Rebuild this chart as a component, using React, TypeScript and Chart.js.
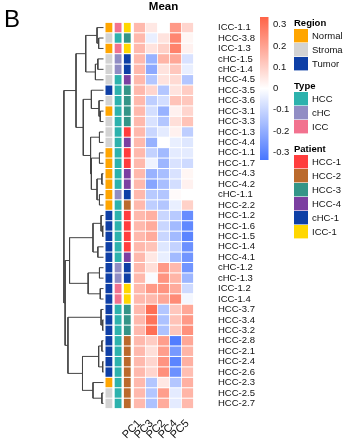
import React, { useEffect, useRef } from "react";
import { Chart, registerables } from "chart.js";

Chart.register(...registerables);

const FONT = "'Liberation Sans', Arial, Helvetica, sans-serif";

// ---------------- data ----------------
const rowLabels = [
  "ICC-1.1", "HCC-3.8", "ICC-1.3", "cHC-1.5", "cHC-1.4", "HCC-4.5", "HCC-3.5", "HCC-3.6",
  "HCC-3.1", "HCC-3.3", "HCC-1.3", "HCC-4.4", "HCC-1.1", "HCC-1.7", "HCC-4.3", "HCC-4.2",
  "cHC-1.1", "HCC-2.2", "HCC-1.2", "HCC-1.6", "HCC-1.5", "HCC-1.4", "HCC-4.1", "cHC-1.2",
  "cHC-1.3", "ICC-1.2", "ICC-1.4", "HCC-3.7", "HCC-3.4", "HCC-3.2", "HCC-2.8", "HCC-2.1",
  "HCC-2.4", "HCC-2.6", "HCC-2.3", "HCC-2.5", "HCC-2.7",
];

const colLabels = ["PC1", "PC3", "PC2", "PC4", "PC5"];

const pc1 = [
  0.15, 0.15, 0.15, 0.15, 0.15, 0.15, 0.15, 0.15, 0.15, 0.15, 0.15, 0.15, 0.15, 0.15, 0.15, 0.15,
  0.15, 0.15, 0.15, 0.15, 0.15, 0.15, 0.15, 0.15, 0.15, 0.15, 0.15, 0.15, 0.15, 0.15, 0.15, 0.15,
  0.15, 0.15, 0.15, 0.15, 0.15,
];
const pc3 = [
  0.05, -0.04, 0.06, -0.19, -0.21, -0.14, 0.09, -0.12, -0.08, -0.07, -0.1, -0.19, -0.11, -0.03, -0.19, -0.22,
  -0.13, -0.12, 0.17, 0.18, 0.18, 0.13, 0.05, 0.07, -0.01, 0.22, 0.15, 0.31, 0.3, 0.31, 0.11, 0.07,
  0.09, 0.09, -0.14, -0.14, -0.15,
];
const pc2 = [
  0.0, 0.06, 0.1, 0.16, 0.06, 0.06, -0.14, -0.08, -0.19, -0.14, -0.05, 0.0, -0.17, -0.18, -0.16, -0.16,
  -0.14, -0.14, -0.1, -0.1, -0.1, -0.06, -0.04, 0.22, 0.23, 0.23, 0.19, -0.14, -0.15, -0.15, 0.21, 0.21,
  0.23, 0.24, 0.05, 0.21, 0.18,
];
const pc4 = [
  0.22, 0.26, 0.27, 0.19, 0.12, 0.08, 0.06, 0.13, 0.03, 0.07, 0.03, -0.04, -0.05, -0.07, -0.07, -0.08,
  0.01, -0.04, -0.13, -0.17, -0.17, -0.11, -0.17, 0.15, 0.16, 0.18, 0.25, 0.12, 0.13, 0.12, -0.32, -0.25,
  -0.3, -0.27, -0.14, -0.05, -0.05,
];
const pc5 = [
  0.09, 0.02, 0.03, -0.07, -0.04, -0.14, 0.11, 0.12, 0.09, 0.13, -0.12, -0.06, -0.05, -0.09, 0.02, 0.03,
  0.0, 0.1, -0.28, -0.29, -0.3, -0.27, -0.26, -0.26, -0.18, -0.09, -0.02, 0.19, 0.22, 0.24, 0.19, 0.16,
  0.17, 0.14, 0.17, 0.16, 0.15,
];
const heatValues = [pc1, pc3, pc2, pc4, pc5];

const region = [
  "Normal", "Stroma", "Normal", "Stroma", "Stroma", "Stroma", "Tumor", "Stroma",
  "Normal", "Stroma", "Stroma", "Stroma", "Normal", "Normal", "Normal", "Normal",
  "Normal", "Normal", "Tumor", "Tumor", "Tumor", "Tumor", "Tumor", "Tumor",
  "Tumor", "Tumor", "Tumor", "Tumor", "Tumor", "Tumor", "Tumor", "Tumor",
  "Tumor", "Tumor", "Normal", "Stroma", "Stroma",
];
const cellType = [
  "ICC", "HCC", "ICC", "cHC", "cHC", "HCC", "HCC", "HCC",
  "HCC", "HCC", "HCC", "HCC", "HCC", "HCC", "HCC", "HCC",
  "cHC", "HCC", "HCC", "HCC", "HCC", "HCC", "HCC", "cHC",
  "cHC", "ICC", "ICC", "HCC", "HCC", "HCC", "HCC", "HCC",
  "HCC", "HCC", "HCC", "HCC", "HCC",
];
const patient = [
  "ICC-1", "HCC-3", "ICC-1", "cHC-1", "cHC-1", "HCC-4", "HCC-3", "HCC-3",
  "HCC-3", "HCC-3", "HCC-1", "HCC-4", "HCC-1", "HCC-1", "HCC-4", "HCC-4",
  "cHC-1", "HCC-2", "HCC-1", "HCC-1", "HCC-1", "HCC-1", "HCC-4", "cHC-1",
  "cHC-1", "ICC-1", "ICC-1", "HCC-3", "HCC-3", "HCC-3", "HCC-2", "HCC-2",
  "HCC-2", "HCC-2", "HCC-2", "HCC-2", "HCC-2",
];

const regionLevels = ["Normal", "Stroma", "Tumor"];
const typeLevels = ["HCC", "cHC", "ICC"];
const patientLevels = ["HCC-1", "HCC-2", "HCC-3", "HCC-4", "cHC-1", "ICC-1"];

// hierarchical clustering merges (R hclust style: negative = leaf, positive = earlier merge), height
const mergeLeft = [-2, -1, -4, 3, 2, -9, -8, -7, -11, -13, -15, -17, 11, 10, 9, 8, 5, -20, -19, -22, 19, -24, -26, 22, 21, -29, -28, -31, -33, 28, -36, -35, 30, 27, 25, 17];
const mergeRight = [-3, 1, -5, -6, 4, -10, 6, 7, -12, -14, -16, -18, 12, 13, 14, 15, 16, -21, 18, -23, 20, -25, -27, 23, 24, -30, 26, -32, -34, 29, -37, 31, 32, 33, 34, 35];
const mergeHeight = [0.6, 0.8, 0.7, 1.0, 2.2, 0.4, 0.55, 1.5, 0.5, 0.5, 0.2, 0.5, 0.8, 1.5, 1.6, 2.5, 3.4, 0.1, 0.3, 0.7, 1.3, 0.5, 0.4, 1.9, 4.2, 0.1, 0.3, 0.2, 0.1, 0.6, 0.2, 1.3, 2.6, 4.4, 4.75, 4.9];

const colorTicks = [0.3, 0.2, 0.1, 0, -0.1, -0.2, -0.3];
const LIMIT = 0.336;

// ---------------- styles / layout ----------------
const regionColors: Record<string, string> = { Normal: "#FFA500", Stroma: "#D3D3D3", Tumor: "#0E3FA6" };
const typeColors: Record<string, string> = { HCC: "#2DB2AD", cHC: "#918DC4", ICC: "#F2728F" };
const patientColors: Record<string, string> = {
  "HCC-1": "#FF3D3D", "HCC-2": "#BB6A2C", "HCC-3": "#349587", "HCC-4": "#7B3FA1", "cHC-1": "#0E3FA6", "ICC-1": "#FFD700",
};
const LOW = [72, 118, 255];
const HIGH = [255, 99, 71];

const W = 350;
const H = 443;
const PLOT_RIGHT = 215;
const PLOT_TOP = 17;
const PLOT_BOTTOM = 414;
const HEAT_LEFT = 140;
const CELL_W = 15;
const CELL_GAP = 1;
const ANNOT_LEFT = [105, 116.5, 128];
const ANNOT_W = 8.5;
const LEAF_X = 102.5;
const DENDRO_W = 49.5;

function valueToColor(v: number) {
  let t = Math.max(-1, Math.min(1, v / LIMIT));
  const end = t >= 0 ? HIGH : LOW;
  t = Math.abs(t);
  const c = end.map((e) => Math.round(255 + (e - 255) * t));
  return `rgb(${c[0]},${c[1]},${c[2]})`;
}

const sidePlugin = {
  id: "sideDecor",
  afterDraw(chart: any) {
    const ctx = chart.ctx as CanvasRenderingContext2D;
    ctx.save();
    ctx.fillStyle = "#000";
    ctx.textAlign = "left";
    ctx.textBaseline = "alphabetic";
    ctx.font = `24px ${FONT}`;
    ctx.fillText("B", 4, 27);

    const xs = chart.scales.x;
    ctx.font = `bold 11.5px ${FONT}`;
    ctx.textAlign = "center";
    ctx.fillText("Mean", xs.getPixelForValue(HEAT_LEFT + (CELL_W * colLabels.length) / 2), 10);

    // colour bar
    const CB_X = 260, CB_W = 8.5, CB_TOP = 17, CB_H = 143;
    const grad = ctx.createLinearGradient(0, CB_TOP, 0, CB_TOP + CB_H);
    const steps = 24;
    for (let s = 0; s <= steps; s++) {
      const v = LIMIT - (s / steps) * 2 * LIMIT;
      grad.addColorStop(s / steps, valueToColor(v));
    }
    ctx.fillStyle = grad;
    ctx.fillRect(CB_X, CB_TOP, CB_W, CB_H);
    ctx.fillStyle = "#111";
    ctx.font = `9.5px ${FONT}`;
    ctx.textAlign = "left";
    ctx.textBaseline = "middle";
    colorTicks.forEach((v) => {
      const y = CB_TOP + ((LIMIT - v) / (2 * LIMIT)) * CB_H;
      ctx.fillText(String(v), 273, y);
    });

    // legends
    const groups = [
      { title: "Region", levels: regionLevels, colors: regionColors },
      { title: "Type", levels: typeLevels, colors: typeColors },
      { title: "Patient", levels: patientLevels, colors: patientColors },
    ];
    let top = 29;
    const BOX_W = 14, STEP = 14;
    groups.forEach((g) => {
      ctx.fillStyle = "#000";
      ctx.font = `bold 9.5px ${FONT}`;
      ctx.textBaseline = "alphabetic";
      ctx.fillText(g.title, 294, top - 3);
      g.levels.forEach((lv, i) => {
        const y = top + i * STEP;
        ctx.fillStyle = g.colors[lv];
        ctx.fillRect(294, y, BOX_W, STEP - 0.6);
        ctx.fillStyle = "#111";
        ctx.font = `9.5px ${FONT}`;
        ctx.textBaseline = "middle";
        ctx.fillText(lv, 312, y + STEP / 2);
      });
      top += g.levels.length * STEP + 21;
    });
    ctx.restore();
  },
};

export default function App() {
  const ref = useRef<HTMLCanvasElement | null>(null);

  useEffect(() => {
    if (!ref.current) return;
    document.body.style.margin = "0";

    const rowIdx = rowLabels.map((_, i) => i);

    const heatSets = heatValues.map((vals, c) => ({
      type: "bar" as const,
      label: colLabels[c],
      indexAxis: "y" as const,
      grouped: false,
      barPercentage: 0.9,
      categoryPercentage: 1,
      borderWidth: 0,
      data: rowIdx.map((i) => ({
        x: [HEAT_LEFT + c * CELL_W + CELL_GAP / 2, HEAT_LEFT + (c + 1) * CELL_W - CELL_GAP / 2],
        y: i,
      })),
      backgroundColor: vals.map((v) => valueToColor(v)),
    }));

    const annots = [
      { vals: region, colors: regionColors },
      { vals: cellType, colors: typeColors },
      { vals: patient, colors: patientColors },
    ];
    const annotSets = annots.map((a, k) => ({
      type: "bar" as const,
      label: "annot" + k,
      indexAxis: "y" as const,
      grouped: false,
      barPercentage: 0.9,
      categoryPercentage: 1,
      borderWidth: 0,
      data: rowIdx.map((i) => ({ x: [ANNOT_LEFT[k], ANNOT_LEFT[k] + ANNOT_W], y: i })),
      backgroundColor: a.vals.map((v) => a.colors[v]),
    }));

    // dendrogram
    const maxH = Math.max(...mergeHeight);
    const hx = (h: number) => LEAF_X - (h / maxH) * DENDRO_W;
    const nodeY: number[] = [];
    const nodeH: number[] = [];
    const getNode = (id: number) =>
      id < 0 ? { y: -id - 1, h: 0 } : { y: nodeY[id - 1], h: nodeH[id - 1] };
    const dendroSets: any[] = [];
    mergeHeight.forEach((h, m) => {
      const a = getNode(mergeLeft[m]);
      const b = getNode(mergeRight[m]);
      nodeY[m] = (a.y + b.y) / 2;
      nodeH[m] = h;
      dendroSets.push({
        type: "line" as const,
        label: "m" + (m + 1),
        data: [
          { x: hx(a.h), y: a.y },
          { x: hx(h), y: a.y },
          { x: hx(h), y: b.y },
          { x: hx(b.h), y: b.y },
        ],
        borderColor: "#444",
        borderWidth: 1,
        pointRadius: 0,
        fill: false,
        tension: 0,
      });
    });

    const chart = new Chart(ref.current, {
      type: "bar",
      data: { datasets: [...annotSets, ...heatSets, ...dendroSets] as any },
      options: {
        responsive: false,
        animation: false,
        devicePixelRatio: 1,
        layout: { padding: { top: PLOT_TOP, left: 0, right: 0, bottom: 0 } },
        plugins: { legend: { display: false }, tooltip: { enabled: false } },
        scales: {
          x: {
            type: "linear",
            min: 0,
            max: PLOT_RIGHT,
            position: "bottom",
            grid: { display: false, drawTicks: false },
            border: { display: false },
            afterBuildTicks: (axis: any) => {
              axis.ticks = colLabels.map((_, c) => ({ value: HEAT_LEFT + CELL_W * (c + 0.5) }));
            },
            afterFit: (axis: any) => {
              axis.height = H - PLOT_BOTTOM;
            },
            ticks: {
              autoSkip: false,
              minRotation: 45,
              maxRotation: 45,
              padding: 3,
              color: "#111",
              font: { family: FONT, size: 11 },
              callback: (_v: any, idx: number) => colLabels[idx],
            },
          },
          y: {
            type: "linear",
            min: -0.5,
            max: rowLabels.length - 0.5,
            reverse: true,
            position: "right",
            grid: { display: false, drawTicks: false },
            border: { display: false },
            afterBuildTicks: (axis: any) => {
              axis.ticks = rowLabels.map((_, i) => ({ value: i }));
            },
            afterFit: (axis: any) => {
              axis.width = W - PLOT_RIGHT;
            },
            ticks: {
              autoSkip: false,
              padding: 3,
              color: "#111",
              font: { family: FONT, size: 9.5 },
              callback: (v: any) => rowLabels[Math.round(Number(v))],
            },
          },
        },
      },
      plugins: [sidePlugin],
    });
    return () => chart.destroy();
  }, []);

  return (
    <div style={{ position: "fixed", left: 0, top: 0, width: W, height: H, background: "#fff" }}>
      <canvas ref={ref} width={W} height={H} style={{ display: "block", width: W, height: H }} />
    </div>
  );
}
